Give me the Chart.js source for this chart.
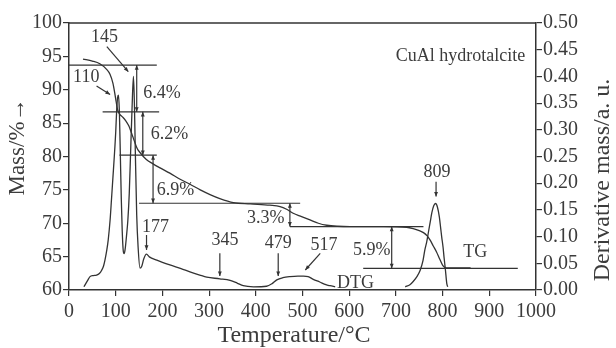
<!DOCTYPE html>
<html>
<head>
<meta charset="utf-8">
<script src="https://cdn.jsdelivr.net/npm/chart.js@4.4.1/dist/chart.umd.min.js"></script>
<style>
  html, body { margin: 0; padding: 0; background: #fff; }
  #wrap { width: 616px; height: 348px; }
</style>
</head>
<body>
<div id="wrap"><canvas id="chart" width="616" height="348"></canvas></div>
<script>
// TG curve (temperature °C, mass %)
const tgTemp = [30, 50, 66, 80, 88, 94, 98, 101, 104, 108, 115, 122, 128, 134, 140, 146, 152, 165, 180, 195, 216, 238, 260, 281, 302, 323, 352, 388, 430, 452, 466, 480, 498, 516, 534, 552, 575, 602, 673, 723, 737, 750, 759, 767, 773, 780, 787, 794, 801, 808, 830, 860];
const tgMass = [94.6, 94.3, 93.9, 93.1, 92.3, 91.0, 89.5, 88.2, 87.0, 86.4, 85.9, 85.3, 84.6, 83.5, 82.3, 81.2, 80.6, 79.6, 78.9, 78.3, 77.5, 76.6, 75.8, 75.0, 74.3, 73.7, 73.1, 72.9, 72.7, 72.5, 72.1, 71.5, 71.0, 70.5, 70.0, 69.7, 69.55, 69.5, 69.5, 69.4, 69.2, 68.9, 68.6, 68.1, 67.5, 66.6, 65.7, 64.6, 63.6, 63.3, 63.3, 63.3];

// DTG curve, two pieces (gap where the "DTG" label sits)
const dtgTemp = [32, 40, 45, 52, 59, 65, 70, 74, 77, 81, 84, 88, 91, 94, 97, 100, 102, 104, 106, 108, 110, 112, 114, 116, 118, 120, 123, 126, 129, 132, 135, 138, 140, 142, 145, 148, 152, 156, 160, 166, 172, 188, 216, 240, 259, 280, 295, 323, 345, 360, 373, 395, 423, 435, 445, 458, 473, 490, 502, 512, 523, 537, 550, 559, 570];
const dtgValue = [0.006, 0.018, 0.025, 0.027, 0.028, 0.031, 0.037, 0.045, 0.056, 0.075, 0.094, 0.131, 0.17, 0.21, 0.25, 0.295, 0.335, 0.36, 0.365, 0.33, 0.25, 0.17, 0.11, 0.075, 0.068, 0.075, 0.1, 0.13, 0.18, 0.26, 0.34, 0.40, 0.35, 0.26, 0.14, 0.08, 0.041, 0.045, 0.058, 0.067, 0.062, 0.056, 0.047, 0.04, 0.034, 0.028, 0.024, 0.021, 0.018, 0.013, 0.008, 0.006, 0.007, 0.012, 0.019, 0.023, 0.025, 0.026, 0.026, 0.025, 0.02, 0.015, 0.01, 0.008, 0.006];
const dtgTemp2 = [720, 730, 737, 745, 752, 758, 762, 766, 770, 774, 777, 781, 785, 789, 793, 796, 798, 801, 803, 806, 809, 811];
const dtgValue2 = [0.006, 0.01, 0.016, 0.025, 0.037, 0.055, 0.075, 0.09, 0.11, 0.13, 0.145, 0.158, 0.162, 0.155, 0.137, 0.115, 0.1, 0.08, 0.062, 0.038, 0.012, 0.006];

// tick labels
const tempTicks = [0, 100, 200, 300, 400, 500, 600, 700, 800, 900, 1000];
const massTicks = [60, 65, 70, 75, 80, 85, 90, 95, 100];
const derivTicks = [0, 0.05, 0.10, 0.15, 0.20, 0.25, 0.30, 0.35, 0.40, 0.45, 0.50];

// mass-loss steps
const stepLevel = [93.7, 86.7, 80.2, 73.0, 69.5, 63.25];
const stepLineFrom = [0, 72, 108, 150, 473, 630];
const stepLineTo = [188, 193, 188, 495, 759, 961];
const stepArrowTemp = [145, 158, 180, 473, 691];
const stepLabel = ['6.4%', '6.2%', '6.9%', '3.3%', '5.9%'];
const stepLabelTemp = [159, 175, 188, 381, 608];
const stepLabelMass = [89.4, 83.4, 75.0, 70.7, 66.0];

// peak temperatures
const peakLabel = ['110', '145', '177', '345', '479', '517', '809'];
const peakLabelTemp = [37, 76, 185, 334, 448, 546, 788];
const peakLabelMass = [91.9, 97.85, 69.4, 67.4, 67.0, 66.7, 77.7];
const peakFromTemp = [59, 81, 166, 323, 448, 538, 786];
const peakFromMass = [90.56, 96.45, 68.24, 65.5, 65.5, 65.5, 76.2];
const peakToTemp = [88, 127, 166, 323, 448, 506, 786];
const peakToMass = [89.3, 92.7, 66.0, 62.1, 62.1, 63.0, 74.0];

const INK = '#333';
const TXT = '#3c3c3c';
const SERIF = '"Liberation Serif", "Times New Roman", serif';

Chart.defaults.font.family = SERIF;
Chart.defaults.color = TXT;

const toPts = (xs, ys) => xs.map((x, i) => ({ x: x, y: ys[i] }));

function arrowHead(ctx, x1, y1, x2, y2, size) {
  const a = Math.atan2(y2 - y1, x2 - x1);
  ctx.beginPath();
  ctx.moveTo(x2, y2);
  ctx.lineTo(x2 - size * Math.cos(a - 0.4), y2 - size * Math.sin(a - 0.4));
  ctx.lineTo(x2 - size * Math.cos(a + 0.4), y2 - size * Math.sin(a + 0.4));
  ctx.closePath();
  ctx.fill();
}

const annotations = {
  id: 'annotations',
  afterDatasetsDraw(chart) {
    const ctx = chart.ctx;
    const xs = chart.scales.x, ys = chart.scales.y;
    const px = v => xs.getPixelForValue(v);
    const py = v => ys.getPixelForValue(v);
    ctx.save();
    ctx.strokeStyle = INK;
    ctx.fillStyle = INK;
    ctx.lineWidth = 1.2;

    // horizontal step lines
    stepLevel.forEach((m, i) => {
      ctx.beginPath();
      ctx.moveTo(px(stepLineFrom[i]), py(m));
      ctx.lineTo(px(stepLineTo[i]), py(m));
      ctx.stroke();
    });
    // vertical dimension arrows
    stepArrowTemp.forEach((t, i) => {
      const x = px(t), y1 = py(stepLevel[i]), y2 = py(stepLevel[i + 1]);
      ctx.beginPath();
      ctx.moveTo(x, y1);
      ctx.lineTo(x, y2);
      ctx.stroke();
      arrowHead(ctx, x, y1 + 6, x, y1, 5);
      arrowHead(ctx, x, y2 - 6, x, y2, 5);
    });
    // peak pointers
    peakLabel.forEach((s, i) => {
      const x1 = px(peakFromTemp[i]), y1 = py(peakFromMass[i]);
      const x2 = px(peakToTemp[i]), y2 = py(peakToMass[i]);
      ctx.beginPath();
      ctx.moveTo(x1, y1);
      ctx.lineTo(x2, y2);
      ctx.stroke();
      arrowHead(ctx, x1, y1, x2, y2, 5);
    });

    ctx.fillStyle = TXT;
    ctx.textBaseline = 'middle';
    ctx.font = '18px ' + SERIF;
    ctx.textAlign = 'left';
    stepLabel.forEach((s, i) => ctx.fillText(s, px(stepLabelTemp[i]), py(stepLabelMass[i])));
    ctx.textAlign = 'center';
    peakLabel.forEach((s, i) => ctx.fillText(s, px(peakLabelTemp[i]), py(peakLabelMass[i])));
    ctx.textAlign = 'left';
    ctx.fillText('TG', px(844), py(65.7));
    ctx.fillText('DTG', px(574), py(61.0));
    ctx.textAlign = 'right';
    ctx.fillText('CuAl hydrotalcite', px(977), py(95.0));
    ctx.restore();
  },
  afterDraw(chart) {
    const ctx = chart.ctx;
    const a = chart.chartArea;
    ctx.save();
    // top frame line
    ctx.strokeStyle = INK;
    ctx.lineWidth = 1.5;
    ctx.beginPath();
    ctx.moveTo(a.left, a.top);
    ctx.lineTo(a.right, a.top);
    ctx.stroke();

    ctx.fillStyle = TXT;
    ctx.textAlign = 'center';
    ctx.textBaseline = 'middle';
    ctx.font = '24px ' + SERIF;
    ctx.fillText('Temperature/°C', 294, 336);

    ctx.save();
    ctx.translate(18, 147);
    ctx.rotate(-Math.PI / 2);
    ctx.font = '23px ' + SERIF;
    ctx.fillText('Mass/%\u2192', 0, 0);
    ctx.restore();

    ctx.save();
    ctx.translate(603, 180);
    ctx.rotate(-Math.PI / 2);
    ctx.font = '24px ' + SERIF;
    ctx.fillText('Derivative mass/a. u.', 0, 0);
    ctx.restore();
    ctx.restore();
  }
};

const axisStyle = {
  border: { display: true, color: INK, width: 1.5 },
  grid: { drawOnChartArea: false, drawTicks: true, tickLength: 6, color: INK, lineWidth: 1.2 }
};

new Chart(document.getElementById('chart').getContext('2d'), {
  type: 'scatter',
  data: {
    datasets: [
      { label: 'TG', data: toPts(tgTemp, tgMass), yAxisID: 'y' },
      { label: 'DTG', data: toPts(dtgTemp, dtgValue), yAxisID: 'y1' },
      { label: 'DTG2', data: toPts(dtgTemp2, dtgValue2), yAxisID: 'y1' }
    ].map(d => Object.assign(d, {
      showLine: true,
      borderColor: INK,
      borderWidth: 1.3,
      pointRadius: 0,
      cubicInterpolationMode: 'monotone',
      fill: false
    }))
  },
  options: {
    responsive: false,
    devicePixelRatio: 1,
    animation: false,
    layout: { padding: { top: 23, left: 0, right: 0, bottom: 0 } },
    plugins: { legend: { display: false }, tooltip: { enabled: false } },
    scales: {
      x: Object.assign({
        type: 'linear', position: 'bottom', min: 0, max: 1000,
        afterBuildTicks: s => { s.ticks = tempTicks.map(v => ({ value: v })); },
        afterFit: s => { s.height = 58; },
        ticks: { font: { size: 20 }, padding: 4, maxRotation: 0, autoSkip: false, callback: v => String(v) }
      }, axisStyle),
      y: Object.assign({
        type: 'linear', position: 'left', min: 60, max: 100,
        afterBuildTicks: s => { s.ticks = massTicks.map(v => ({ value: v })); },
        afterFit: s => { s.width = 69; },
        ticks: { font: { size: 20 }, padding: 1, autoSkip: false, callback: v => String(v) }
      }, axisStyle),
      y1: Object.assign({
        type: 'linear', position: 'right', min: 0, max: 0.5,
        afterBuildTicks: s => { s.ticks = derivTicks.map(v => ({ value: v })); },
        afterFit: s => { s.width = 80; },
        ticks: { font: { size: 20 }, padding: 1, autoSkip: false, callback: v => v.toFixed(2) }
      }, axisStyle)
    }
  },
  plugins: [annotations]
});
</script>
</body>
</html>
